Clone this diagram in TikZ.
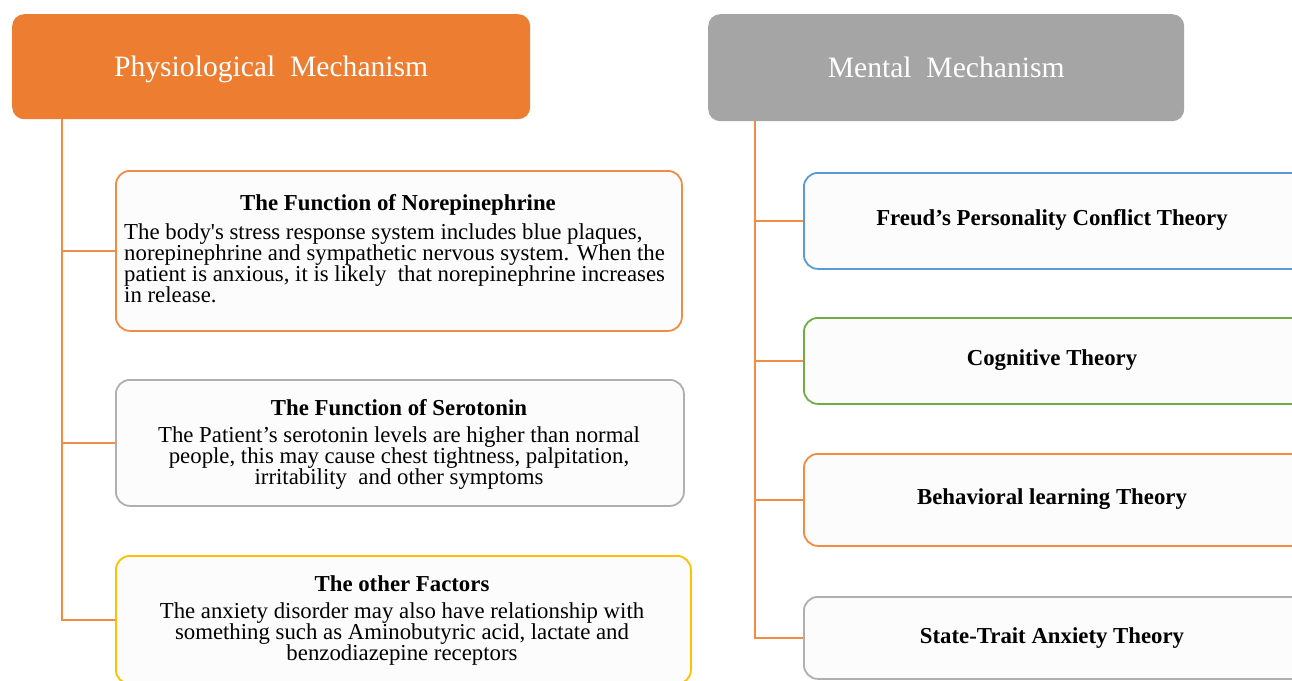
\documentclass[tikz,border=0pt]{standalone}
\usepackage{fontspec}
\setmainfont{Liberation Serif}
\definecolor{hdorange}{HTML}{ED7D31}
\definecolor{hdgray}{HTML}{A5A5A5}
\definecolor{lnorange}{HTML}{F28C45}
\definecolor{bdblue}{HTML}{5B9BD5}
\definecolor{bdgreen}{HTML}{70AD47}
\definecolor{bdyellow}{HTML}{FFC000}
\definecolor{bdgray}{HTML}{AFAFAF}
\tikzset{
  head/.style={anchor=north west, rounded corners=12pt, text=white,
    font=\fontsize{29.6}{34}\selectfont, text depth=1pt},
  card/.style={anchor=north west, draw=#1, line width=1.8pt, fill=white!99!black,
    rounded corners=14pt},
  ttl/.style={font=\bfseries\fontsize{22.8}{24}\selectfont, inner sep=0pt},
  txt/.style={font=\fontsize{22.8}{21}\selectfont, inner sep=0pt, align=center},
  link/.style={draw=lnorange, line width=2pt}
}
\begin{document}
\begin{tikzpicture}[x=1pt, y=-1pt]
    \clip (0,0) rectangle (1292,680);
    \fill[white] (0,0) rectangle (1292,680);

    % Headers
    \node[head, fill=hdorange, minimum width=518pt, minimum height=105pt] (phys) at (12,14) {Physiological\ \ Mechanism};
    \node[head, fill=hdgray, minimum width=476pt, minimum height=107pt] (ment) at (708,14) {Mental\ \ Mechanism};

    % Left boxes
    \node[card=lnorange, minimum width=566pt, minimum height=160pt] (nore) at (115,170) {};
    \node[ttl] (noret) at (398,205) {The Function of Norepinephrine};
    \node[txt, anchor=west, align=left] (noreb) at (124,263.5) {The body\textquotesingle s stress response system includes blue plaques,\\
      norepinephrine and sympathetic nervous system. When the\\
      patient is anxious, it is likely\ \ that norepinephrine increases\\
      in release.};

    \node[card=bdgray, minimum width=568pt, minimum height=126pt] (sero) at (115,379) {};
    \node[ttl] (serot) at (399,408) {The Function of Serotonin};
    \node[txt] (serob) at (399,458.5) {The Patient’s serotonin levels are higher than normal\\
      people, this may cause chest tightness, palpitation,\\
      irritability\ \ and other symptoms};

    \node[card=bdyellow, minimum width=575pt, minimum height=128pt] (other) at (115,555) {};
    \node[ttl] (othert) at (402,584) {The other Factors};
    \node[txt] (otherb) at (402,634.5) {The anxiety disorder may also have relationship with\\
      something such as Aminobutyric acid, lactate and\\
      benzodiazepine receptors};

    % Right boxes
    \node[card=bdblue, minimum width=520pt, minimum height=96pt] (freud) at (803,172) {};
    \node[ttl] at (1052,220) {Freud’s Personality Conflict\ Theory};
    \node[card=bdgreen, minimum width=520pt, minimum height=86pt] (cogn) at (803,317) {};
    \node[ttl] at (1052,360) {Cognitive Theory};
    \node[card=lnorange, minimum width=520pt, minimum height=92pt] (behav) at (803,453) {};
    \node[ttl] at (1052,499) {Behavioral learning Theory};
    \node[card=bdgray, minimum width=520pt, minimum height=82pt] (state) at (803,596) {};
    \node[ttl] at (1052,638) {State-Trait\ Anxiety Theory};

    % Connectors
    \draw[link] (phys.south west) ++(50,0) |- (other.west);
    \draw[link] (nore.west) -- ++(-53,0);
    \draw[link] (sero.west) -- ++(-53,0);
    \draw[link] (ment.south west) ++(47,0) |- (state.west);
    \draw[link] (freud.west) -- ++(-48,0);
    \draw[link] (cogn.west) -- ++(-48,0);
    \draw[link] (behav.west) -- ++(-48,0);
\end{tikzpicture}
\end{document}
